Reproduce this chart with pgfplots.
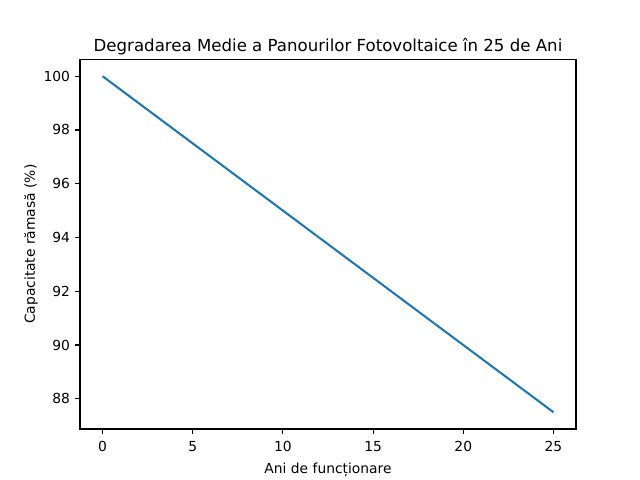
\documentclass[border=0pt]{standalone}
\usepackage{fontspec}
\setmainfont{DejaVu Sans}
\usepackage{pgfplots}
\pgfplotsset{compat=1.18}
\definecolor{mplblue}{HTML}{1F77B4}

\begin{document}
\begin{tikzpicture}
\begin{axis}[
    at={(0,0)}, anchor=south west,
    scale only axis,
    width=4.96in, height=3.696in,
    xmin=-1.25, xmax=26.25,
    ymin=86.875, ymax=100.625,
    xtick={0,5,10,15,20,25},
    ytick={88,90,92,94,96,98,100},
    tick align=outside,
    tick style={line width=0.8pt, black},
    major tick length=3.5pt,
    xtick pos=bottom, ytick pos=left,
    axis line style={line width=0.8pt},
    tick label style={font=\fontsize{10}{12}\selectfont},
    /pgf/number format/assume math mode=true,
    xticklabel style={inner sep=0pt, yshift=-5pt},
    yticklabel style={inner sep=0pt, xshift=-3.5pt},
    label style={font=\fontsize{10}{12}\selectfont},
    xlabel={Ani de funcționare},
    ylabel={Capacitate rămasă (\%)},
    xlabel style={inner sep=0pt, yshift=-8pt},
    ylabel style={inner sep=0pt, yshift=4pt},
    title={Degradarea Medie a Panourilor Fotovoltaice în 25 de Ani},
    title style={font=\fontsize{12}{14}\selectfont, anchor=base, inner sep=0pt},
]
\addplot[mplblue, line width=1.5pt, no marks] coordinates {
    (0,100)(1,99.5)(2,99)(3,98.5)(4,98)(5,97.5)(6,97)(7,96.5)(8,96)(9,95.5)
    (10,95)(11,94.5)(12,94)(13,93.5)(14,93)(15,92.5)(16,92)(17,91.5)(18,91)
    (19,90.5)(20,90)(21,89.5)(22,89)(23,88.5)(24,88)(25,87.5)
};
\end{axis}
\pgfresetboundingbox
\path (-0.8in,-0.51in) rectangle (5.6in,4.29in);
\end{tikzpicture}
\end{document}
